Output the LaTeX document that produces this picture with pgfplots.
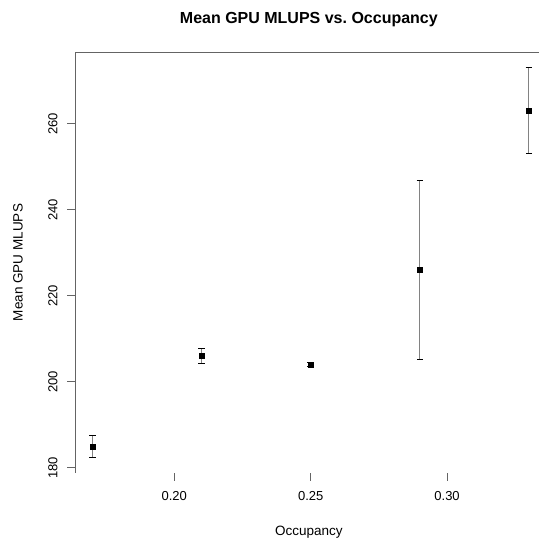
\documentclass[border=0pt]{standalone}
\usepackage{fontspec}
\setmainfont{Liberation Sans}
\usepackage{pgfplots}
\pgfplotsset{compat=1.18}

\definecolor{axisgray}{RGB}{100,100,100}
\definecolor{bargray}{RGB}{130,130,130}

\begin{document}
\begin{tikzpicture}
\path[use as bounding box] (0,0) rectangle (539pt,538pt);
\begin{axis}[
  at={(75pt,65pt)}, anchor=south west,
  scale only axis,
  width=464pt, height=421pt,
  xmin=0.1636, xmax=0.3337,
  ymin=178.8, ymax=276.7,
  xtick={0.20,0.25,0.30},
  ytick={180,200,220,240,260},
  xticklabel style={/pgf/number format/fixed, /pgf/number format/fixed zerofill,
    /pgf/number format/precision=2, font=\fontsize{13}{15}\selectfont, yshift=-7pt},
  yticklabel style={xshift=-6pt, rotate=90, anchor=south, font=\fontsize{13}{15}\selectfont},
  /pgf/number format/assume math mode=true,
  tick align=outside, major tick length=8pt,
  tick style={axisgray, line width=0.8pt},
  xtick pos=bottom, ytick pos=left,
  axis line style={draw=none},
  title={\bfseries Mean GPU MLUPS vs.\ Occupancy},
  title style={font=\fontsize{16}{18}\selectfont, at={(axis description cs:0.504,1)}, anchor=center, yshift=26pt},
  xlabel={Occupancy},
  ylabel={Mean GPU MLUPS},
  label style={font=\fontsize{13.5}{16}\selectfont},
  xlabel style={at={(axis description cs:0.504,0)}, anchor=center, yshift=-59pt},
  ylabel style={at={(axis description cs:-0.1228,0.5)}, anchor=center},
]
\draw[axisgray, line width=0.8pt] (rel axis cs:1,1) -- (rel axis cs:0,1) -- (rel axis cs:0,0) -- (rel axis cs:1,0);
\addplot[only marks, mark=square*, mark size=2.6pt, black,
  error bars/.cd, y dir=both, y explicit,
  error bar style={bargray, line width=0.9pt},
  error mark options={rotate=90, mark size=3.2pt, black, line width=0.7pt}]
coordinates {
  (0.17,185.0) +- (0,2.6)
  (0.21,206.0) +- (0,1.8)
  (0.25,204.0) +- (0,0.5)
  (0.29,226.0) +- (0,20.8)
  (0.33,263.1) +- (0,10.0)
};
\end{axis}
\end{tikzpicture}
\end{document}
